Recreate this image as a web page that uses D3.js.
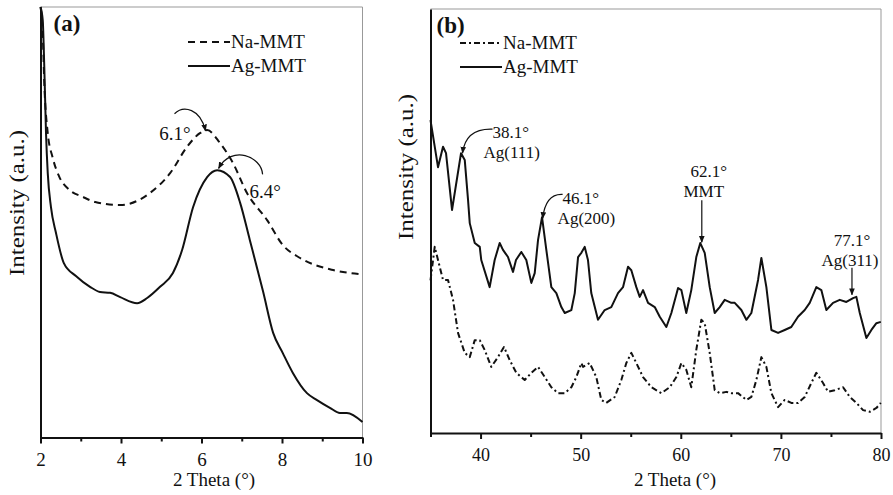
<!DOCTYPE html>
<html>
<head>
<meta charset="utf-8">
<script src="https://cdn.jsdelivr.net/npm/d3@7"></script>
<style>
body { margin: 0; background: #fff; }
svg { display: block; }
text { font-family: "Liberation Serif", "Times New Roman", serif; fill: #111; }
.frame { stroke: #999; stroke-width: 1; fill: none; }
.axis path, .axis line { stroke: #111; stroke-width: 2; }
.axis text { font-family: "Liberation Serif", serif; fill: #111; }
.curve { fill: none; stroke: #111; stroke-width: 2; stroke-linejoin: round; }
.ann { fill: none; stroke: #111; stroke-width: 1.2; }
</style>
</head>
<body>
<svg id="chart" width="893" height="495"></svg>
<script>
// DATA - panel (a), small angle
const thetaNaA = [2.00, 2.055, 2.094, 2.18, 2.30, 2.47, 2.72, 3.05, 3.36, 3.98, 4.72, 5.22, 5.64, 5.96, 6.14, 6.46, 6.78, 7.13, 7.63, 8.02, 8.45, 9.27, 10.0];
const intNaA = [100, 94.0, 82.3, 70.7, 65.1, 60.5, 57.5, 55.9, 54.7, 54.0, 56.8, 61.4, 67.5, 70.7, 71.4, 68.4, 63.8, 56.8, 50.5, 44.7, 41.7, 38.9, 37.9];
const thetaAgA = [2.00, 2.055, 2.094, 2.137, 2.18, 2.26, 2.385, 2.58, 2.88, 3.23, 3.48, 3.73, 3.98, 4.40, 4.65, 4.97, 5.29, 5.52, 5.79, 6.14, 6.39, 6.71, 6.96, 7.20, 7.53, 7.78, 8.02, 8.27, 8.62, 8.87, 9.19, 9.44, 9.61, 10.0];
const intAgA = [100, 97.0, 86.1, 70.7, 61.4, 53.5, 47.5, 40.5, 37.5, 35.0, 33.8, 33.6, 32.6, 31.2, 32.4, 35.0, 38.2, 43.6, 53.5, 60.5, 62.1, 60.5, 54.5, 45.9, 33.9, 24.3, 19.6, 15.0, 10.3, 8.7, 6.9, 5.7, 5.7, 3.6];
const ticksA = [2, 4, 6, 8, 10];
const minorA = [3, 5, 7, 9];
const annAngleA = [6.1, 6.4];
const annLabelA = ["6.1°", "6.4°"];

// DATA - panel (b), wide angle
const thetaAgB = [35.0, 35.75, 36.25, 36.55, 37.15, 38.05, 38.42, 38.75, 38.92, 39.42, 39.92, 40.07, 40.91, 41.41, 41.91, 42.24, 42.74, 43.24, 43.54, 44.07, 44.57, 45.07, 45.41, 45.74, 46.14, 46.57, 47.07, 47.57, 48.07, 48.41, 49.07, 49.41, 49.74, 50.07, 50.40, 50.73, 51.06, 51.73, 52.40, 53.06, 53.73, 54.23, 54.73, 55.06, 55.56, 55.90, 56.23, 56.73, 57.40, 57.90, 58.56, 59.06, 59.73, 60.06, 60.55, 61.05, 61.55, 61.95, 62.39, 62.89, 63.39, 63.89, 64.39, 65.05, 65.39, 66.05, 66.55, 67.05, 67.72, 68.05, 68.55, 69.05, 69.72, 70.38, 71.04, 71.71, 72.38, 72.88, 73.54, 74.04, 74.54, 75.21, 75.88, 76.54, 77.21, 77.54, 77.88, 78.54, 79.04, 79.54, 79.98];
const intAgB = [73.8, 62.7, 67.5, 66.0, 52.6, 66.0, 64.4, 55.0, 49.5, 44.8, 43.9, 40.8, 34.4, 40.8, 44.8, 43.2, 41.5, 38.0, 40.8, 42.7, 40.8, 35.4, 37.7, 45.5, 50.9, 43.2, 34.4, 33.0, 29.7, 28.3, 29.0, 33.0, 41.5, 42.5, 43.9, 40.8, 33.0, 26.7, 29.0, 29.7, 33.0, 34.4, 39.2, 38.4, 34.4, 32.1, 33.7, 30.7, 29.7, 27.4, 25.0, 28.3, 34.2, 33.7, 28.3, 33.7, 41.5, 44.8, 42.5, 34.4, 28.3, 29.7, 31.4, 30.7, 30.7, 29.0, 26.7, 28.3, 36.1, 41.3, 34.4, 24.3, 23.6, 24.3, 25.0, 27.4, 29.0, 30.7, 34.4, 33.7, 29.0, 30.7, 31.4, 30.9, 31.8, 32.1, 28.3, 22.4, 24.3, 25.9, 26.2];
const thetaNaB = [35.0, 35.42, 35.75, 36.25, 36.75, 37.25, 37.75, 38.42, 38.92, 39.42, 39.92, 40.41, 41.07, 41.74, 42.34, 42.91, 43.57, 44.41, 45.07, 45.74, 46.41, 47.07, 47.74, 48.41, 49.07, 49.57, 50.07, 50.24, 50.90, 51.56, 52.06, 52.56, 53.40, 54.06, 54.56, 55.06, 55.56, 56.23, 57.06, 58.06, 58.90, 59.56, 60.06, 60.55, 61.05, 61.55, 62.05, 62.39, 62.89, 63.39, 63.89, 64.55, 65.05, 65.72, 66.55, 67.05, 67.55, 68.05, 68.55, 69.05, 69.72, 70.38, 71.04, 71.71, 72.38, 73.04, 73.54, 74.21, 74.71, 75.38, 76.21, 76.88, 77.54, 78.21, 78.88, 79.54, 79.98];
const intNaB = [36.0, 43.9, 40.8, 36.1, 36.1, 31.4, 23.6, 18.9, 17.9, 21.9, 21.9, 19.6, 15.6, 17.9, 20.3, 17.2, 14.2, 12.5, 14.2, 15.6, 13.2, 10.8, 9.4, 9.4, 10.8, 13.2, 16.5, 15.6, 16.5, 13.2, 7.8, 7.1, 8.5, 12.5, 16.5, 18.9, 16.5, 13.2, 10.8, 9.4, 10.8, 13.2, 16.5, 14.9, 10.8, 19.6, 26.7, 25.9, 18.9, 10.1, 9.4, 9.7, 9.4, 9.4, 7.8, 8.5, 12.5, 17.9, 15.6, 9.4, 6.1, 7.8, 7.1, 7.1, 8.5, 11.8, 14.2, 11.8, 9.7, 10.1, 10.8, 8.5, 7.1, 5.4, 5.0, 5.9, 7.1];
const ticksB = [40, 50, 60, 70, 80];
const minorB = [35, 45, 55, 65, 75];
const annAngleB = [38.1, 46.1, 62.1, 77.1];
const annLabelB = [["38.1°", "Ag(111)"], ["46.1°", "Ag(200)"], ["62.1°", "MMT"], ["77.1°", "Ag(311)"]];

const seriesNames = ["Na-MMT", "Ag-MMT"];

// helpers
function interp(xs, vs, a) {
    const i = d3.bisectLeft(xs, a);
    if (i <= 0) return vs[0];
    if (i >= xs.length) return vs[vs.length - 1];
    const t = (a - xs[i - 1]) / (xs[i] - xs[i - 1]);
    return vs[i - 1] + t * (vs[i] - vs[i - 1]);
}

const svg = d3.select("#chart");

svg.append("defs").append("marker")
    .attr("id", "arrow")
    .attr("viewBox", "0 0 10 10")
    .attr("refX", 9)
    .attr("refY", 5)
    .attr("markerWidth", 7)
    .attr("markerHeight", 7)
    .attr("markerUnits", "userSpaceOnUse")
    .attr("orient", "auto")
    .append("path")
    .attr("d", "M0,1 L10,5 L0,9 Z")
    .attr("fill", "#111");

function drawPanel(p) {
    const g = svg.append("g");
    const x = d3.scaleLinear().domain(p.xDomain).range([p.left, p.right]);
    const y = d3.scaleLinear().domain([0, 100]).range([p.bottom, p.top]);

    // frame (top + right)
    g.append("path")
        .attr("class", "frame")
        .attr("d", `M${p.left},${p.top} H${p.right} V${p.bottom}`);

    // bottom axis
    g.append("g")
        .attr("class", "axis")
        .attr("transform", `translate(0,${p.bottom})`)
        .call(d3.axisBottom(x).tickValues(p.minor).tickSize(4).tickSizeOuter(0).tickFormat(""))
        .call(a => a.select(".domain").remove());
    g.append("g")
        .attr("class", "axis")
        .attr("transform", `translate(0,${p.bottom})`)
        .call(d3.axisBottom(x).tickValues(p.ticks).tickSize(6).tickSizeOuter(0).tickPadding(9))
        .call(a => a.selectAll("text").attr("font-size", p.tickFont));

    // left axis, no ticks
    g.append("g")
        .attr("class", "axis")
        .attr("transform", `translate(${p.left},0)`)
        .call(d3.axisLeft(y).tickValues([]).tickSizeOuter(0));

    // curves
    const line = d3.line()
        .x(d => x(d[0]))
        .y(d => y(d[1]))
        .curve(p.curve);

    g.append("path")
        .attr("class", "curve")
        .attr("stroke-dasharray", p.naDash)
        .attr("d", line(d3.zip(p.naX, p.naV)));
    g.append("path")
        .attr("class", "curve")
        .attr("d", line(d3.zip(p.agX, p.agV)));

    // legend
    const lg = g.append("g").attr("transform", `translate(${p.legendX},${p.legendY})`);
    seriesNames.forEach((name, i) => {
        lg.append("line")
            .attr("class", "curve")
            .attr("x1", 0).attr("x2", 42)
            .attr("y1", i * 24).attr("y2", i * 24)
            .attr("stroke-dasharray", i === 0 ? p.naDash : null);
        lg.append("text")
            .attr("x", 43).attr("y", i * 24 + 6)
            .attr("font-size", 19)
            .text(name);
    });

    // panel letter
    g.append("text")
        .attr("x", p.left + p.letterDx).attr("y", p.top + 24)
        .attr("font-size", 23)
        .attr("font-weight", "bold")
        .text(p.letter);

    // axis titles
    g.append("text")
        .attr("x", p.titleX).attr("y", 486)
        .attr("text-anchor", "middle")
        .attr("font-size", 19)
        .text("2 Theta (°)");
    g.append("text")
        .attr("transform", `translate(${p.yTitleX},${p.yTitleY}) rotate(-90)`)
        .attr("text-anchor", "middle")
        .attr("font-size", 20)
        .attr("textLength", 146)
        .attr("lengthAdjust", "spacingAndGlyphs")
        .text("Intensity (a.u.)");

    return {g, x, y};
}

// PANEL (a)
const pa = drawPanel({
    xDomain: [2, 10], left: 40.5, right: 362.5, top: 7, bottom: 437.5,
    ticks: ticksA, minor: minorA, tickFont: 19,
    naX: thetaNaA, naV: intNaA, agX: thetaAgA, agV: intAgA,
    naDash: "7,5", curve: d3.curveMonotoneX,
    legendX: 188, legendY: 42, letter: "(a)", letterDx: 13,
    titleX: 214, yTitleX: 24, yTitleY: 203
});

{
    // 6.1 on Na-MMT, 6.4 on Ag-MMT
    const t1x = pa.x(annAngleA[0]), t1y = pa.y(interp(thetaNaA, intNaA, annAngleA[0]));
    const t2x = pa.x(annAngleA[1]), t2y = pa.y(interp(thetaAgA, intAgA, annAngleA[1]));
    pa.g.append("path").attr("class", "ann").attr("marker-end", "url(#arrow)")
        .attr("d", `M${t1x - 31},${t1y - 17} C${t1x - 22},${t1y - 26} ${t1x - 5},${t1y - 22} ${t1x},${t1y}`);
    pa.g.append("text").attr("x", t1x - 15).attr("y", t1y + 9)
        .attr("text-anchor", "end").attr("font-size", 19).text(annLabelA[0]);
    pa.g.append("path").attr("class", "ann").attr("marker-end", "url(#arrow)")
        .attr("d", `M${t2x + 45},${t2y + 4} C${t2x + 44},${t2y - 14} ${t2x + 14},${t2y - 26} ${t2x + 1},${t2y - 2}`);
    pa.g.append("text").attr("x", t2x + 32).attr("y", t2y + 28)
        .attr("font-size", 19).text(annLabelA[1]);
}

// PANEL (b)
const pb = drawPanel({
    xDomain: [35, 80], left: 430.5, right: 881, top: 9, bottom: 433,
    ticks: ticksB, minor: minorB, tickFont: 18,
    naX: thetaNaB, naV: intNaB, agX: thetaAgB, agV: intAgB,
    naDash: "6,3,2,3", curve: d3.curveLinear,
    legendX: 460, legendY: 43, letter: "(b)", letterDx: 6,
    titleX: 675, yTitleX: 413, yTitleY: 167
});

{
    const tips = annAngleB.map(a => [pb.x(a), pb.y(interp(thetaAgB, intAgB, a))]);
    // curved arrows for Ag(111) and Ag(200)
    [[31, -16, 22, 4], [21, -15, 16, 5]].forEach((o, i) => {
        const [tx, ty] = tips[i];
        pb.g.append("path").attr("class", "ann").attr("marker-end", "url(#arrow)")
            .attr("d", `M${tx + o[0]},${ty - 25} Q${tx + 4},${ty - 26} ${tx + 1},${ty - 1}`);
        pb.g.append("text").attr("x", tx + o[0]).attr("y", ty + o[1])
            .attr("font-size", 17).text(annLabelB[i][0]);
        pb.g.append("text").attr("x", tx + o[2]).attr("y", ty + o[3])
            .attr("font-size", 17).text(annLabelB[i][1]);
    });
    // vertical arrows for MMT and Ag(311)
    [[7, -69, 2, -49, -46], [0, -53, -2, -33, -31]].forEach((o, k) => {
        const i = k + 2;
        const [tx, ty] = tips[i];
        pb.g.append("path").attr("class", "ann").attr("marker-end", "url(#arrow)")
            .attr("d", `M${tx},${ty + o[4]} V${ty - 4}`);
        pb.g.append("text").attr("x", tx + o[0]).attr("y", ty + o[1])
            .attr("text-anchor", "middle").attr("font-size", 17).text(annLabelB[i][0]);
        pb.g.append("text").attr("x", tx + o[2]).attr("y", ty + o[3])
            .attr("text-anchor", "middle").attr("font-size", 17).text(annLabelB[i][1]);
    });
}
</script>
</body>
</html>
